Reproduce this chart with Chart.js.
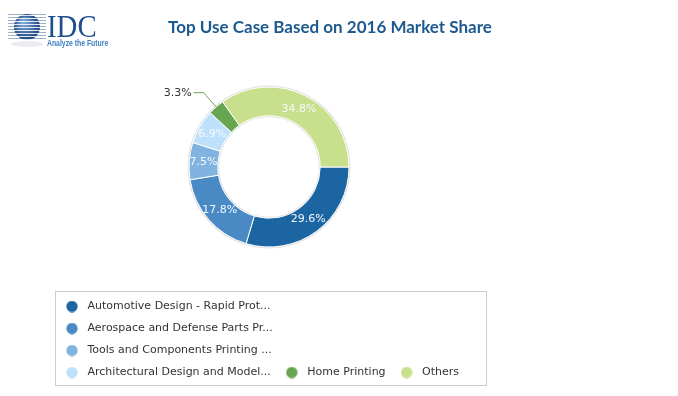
<!DOCTYPE html>
<html>
<head>
<meta charset="utf-8">
<script src="https://cdn.jsdelivr.net/npm/chart.js@4.4.1/dist/chart.umd.min.js"></script>
<style>
  html, body { margin: 0; padding: 0; background: #fff; }
  #wrap { width: 678px; height: 396px; position: relative; }
</style>
</head>
<body>
<div id="wrap"><canvas id="useCaseChart"></canvas></div>
<script>
const categories = [
  "Automotive Design - Rapid Prot...",
  "Aerospace and Defense Parts Pr...",
  "Tools and Components Printing ...",
  "Architectural Design and Model...",
  "Home Printing",
  "Others"
];
const shares = [29.6, 17.8, 7.5, 6.9, 3.3, 34.8];
const colors = ["#1b65a3", "#4a8ac4", "#80b3df", "#bde0fb", "#67a551", "#c8df8b"];
const outsideLabels = [4]; // small slice labelled outside with a leader line

const titleText = "Top Use Case Based on 2016 Market Share";

// round legend markers drawn on small canvases
function makeDot(color) {
  const c = document.createElement('canvas');
  c.width = 12; c.height = 12;
  const g = c.getContext('2d');
  g.fillStyle = color;
  g.beginPath();
  g.arc(6, 6, 5.7, 0, Math.PI * 2);
  g.fill();
  return c;
}
const dots = colors.map(makeDot);

const headerPlugin = {
  id: 'header',
  afterDraw(chart) {
    const ctx = chart.ctx;
    ctx.save();
    // title
    ctx.fillStyle = '#1d5a8f';
    ctx.font = 'bold 17px Lato';
    ctx.textAlign = 'center';
    ctx.textBaseline = 'middle';
    ctx.fillText(titleText, 330, 28);

    // logo: striped globe
    ctx.fillStyle = 'rgba(120,130,150,0.15)';
    ctx.beginPath();
    ctx.ellipse(27, 44, 16, 3, 0, 0, Math.PI * 2);
    ctx.fill();
    ctx.strokeStyle = '#9fb3c8';
    ctx.lineWidth = 1.2;
    for (let y = 14; y <= 40; y += 3) {
      ctx.beginPath();
      ctx.moveTo(8, y + 0.5);
      ctx.lineTo(46, y + 0.5);
      ctx.stroke();
    }
    const grad = ctx.createRadialGradient(23, 22, 2, 27, 27, 14);
    grad.addColorStop(0, '#7aa8d6');
    grad.addColorStop(1, '#173f7a');
    ctx.fillStyle = grad;
    ctx.beginPath();
    ctx.arc(27, 27, 13, 0, Math.PI * 2);
    ctx.fill();
    ctx.strokeStyle = 'rgba(255,255,255,0.85)';
    ctx.lineWidth = 1;
    for (let y = 15; y <= 39; y += 3) {
      ctx.beginPath();
      ctx.moveTo(13, y + 0.5);
      ctx.lineTo(41, y + 0.5);
      ctx.stroke();
    }
    // logo text
    ctx.textAlign = 'left';
    ctx.textBaseline = 'alphabetic';
    ctx.fillStyle = '#1f4e8c';
    ctx.save();
    ctx.translate(47, 37);
    ctx.scale(0.9, 1);
    ctx.font = '32px "Liberation Serif"';
    ctx.fillText('IDC', 0, 0);
    ctx.restore();
    ctx.fillStyle = '#3b82c4';
    ctx.save();
    ctx.translate(47, 46);
    ctx.scale(0.76, 1);
    ctx.font = 'bold 9px "Liberation Sans"';
    ctx.fillText('Analyze the Future', 0, 0);
    ctx.restore();

    // legend frame
    ctx.strokeStyle = '#cccccc';
    ctx.lineWidth = 1;
    ctx.strokeRect(55.5, 291.5, 431, 94);
    ctx.restore();
  }
};

const ringPlugin = {
  id: 'ringShade',
  beforeDatasetsDraw(chart) {
    const arc = chart.getDatasetMeta(0).data[0];
    if (!arc) return;
    const ctx = chart.ctx;
    ctx.save();
    ctx.strokeStyle = 'rgba(0,0,0,0.12)';
    ctx.lineWidth = 2;
    ctx.beginPath();
    ctx.arc(arc.x, arc.y, arc.outerRadius + 0.5, 0, Math.PI * 2);
    ctx.stroke();
    ctx.beginPath();
    ctx.arc(arc.x, arc.y, arc.innerRadius - 0.5, 0, Math.PI * 2);
    ctx.stroke();
    ctx.restore();
  }
};

const sliceLabelPlugin = {
  id: 'sliceLabels',
  afterDatasetsDraw(chart) {
    const ctx = chart.ctx;
    const meta = chart.getDatasetMeta(0);
    ctx.save();
    ctx.font = '11px "DejaVu Sans"';
    ctx.textBaseline = 'middle';
    meta.data.forEach((arc, i) => {
      const text = shares[i].toFixed(1) + '%';
      if (outsideLabels.includes(i)) {
        const mid = (arc.startAngle + arc.endAngle) / 2;
        const x0 = arc.x + Math.cos(mid) * arc.outerRadius;
        const y0 = arc.y + Math.sin(mid) * arc.outerRadius;
        const x1 = arc.x + Math.cos(mid) * (arc.outerRadius + 19);
        const y1 = arc.y + Math.sin(mid) * (arc.outerRadius + 19);
        ctx.strokeStyle = colors[i];
        ctx.lineWidth = 1;
        ctx.beginPath();
        ctx.moveTo(x0, y0);
        ctx.lineTo(x1, y1);
        ctx.lineTo(x1 - 10, y1);
        ctx.stroke();
        ctx.fillStyle = '#333333';
        ctx.textAlign = 'right';
        ctx.fillText(text, x1 - 12, y1);
      } else {
        const p = arc.getCenterPoint();
        ctx.fillStyle = '#f4f8fc';
        ctx.textAlign = 'center';
        ctx.fillText(text, p.x, p.y);
      }
    });
    ctx.restore();
  }
};

new Chart(document.getElementById('useCaseChart'), {
  type: 'doughnut',
  data: {
    labels: categories,
    datasets: [{
      data: shares,
      backgroundColor: colors,
      borderColor: '#ffffff',
      borderWidth: 1,
      radius: 80,
      cutout: '64%'
    }]
  },
  options: {
    responsive: true,
    maintainAspectRatio: false,
    animation: false,
    rotation: 90,
    layout: { padding: { left: 51, right: 191, top: 44, bottom: 8 } },
    plugins: {
      title: { display: false },
      tooltip: { enabled: false },
      legend: {
        position: 'bottom',
        align: 'start',
        labels: {
          font: { family: 'DejaVu Sans', size: 11 },
          color: '#333333',
          padding: 11,
          usePointStyle: true,
          pointStyleWidth: 20,
          generateLabels(chart) {
            const base = Chart.overrides.doughnut.plugins.legend.labels.generateLabels(chart);
            return base.map((item, i) => Object.assign(item, { pointStyle: dots[i] }));
          }
        }
      }
    }
  },
  plugins: [ringPlugin, sliceLabelPlugin, headerPlugin]
});
</script>
</body>
</html>
